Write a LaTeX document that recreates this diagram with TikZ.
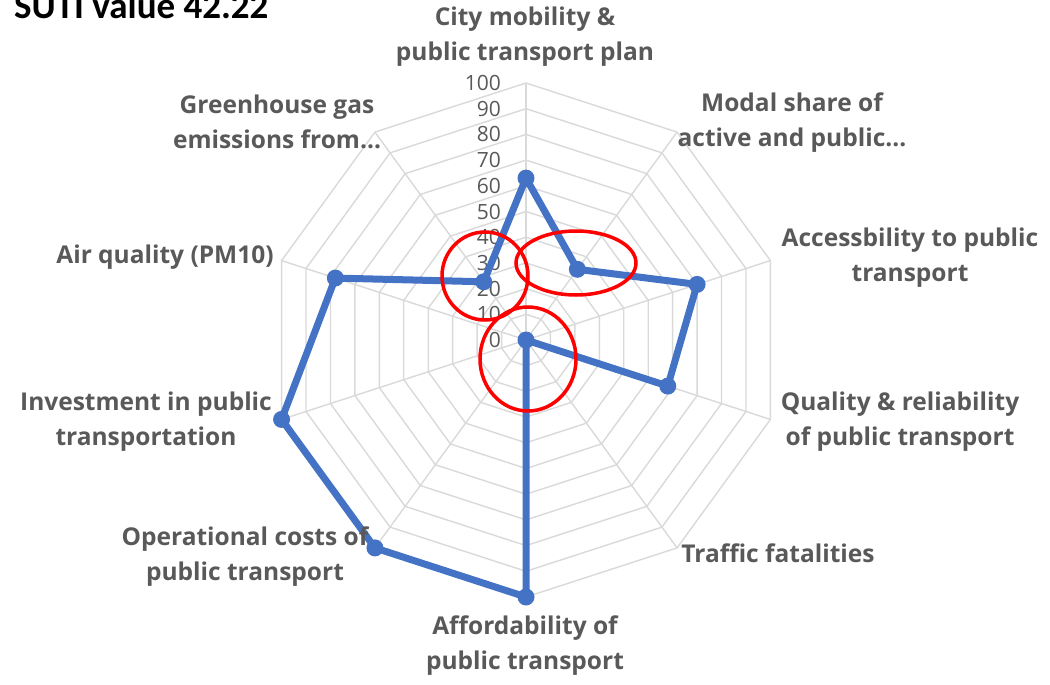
\documentclass[tikz,border=0pt]{standalone}
\usepackage{fontspec}
\setmainfont{Open Sans}
\newfontfamily\titlefont{Carlito}
\definecolor{gridc}{HTML}{D9D9D9}
\definecolor{labc}{HTML}{595959}
\definecolor{serc}{HTML}{4472C4}
\begin{document}
\begin{tikzpicture}[x=1pt,y=-1pt,
  gridline/.style={draw=gridc,line width=1.4pt},
  ticklab/.style={anchor=east,inner sep=0pt,text=labc,font=\fontsize{21}{24}\selectfont},
  catlab/.style={inner sep=0pt,align=center,text=labc,font=\bfseries\fontsize{24.5}{35}\selectfont},
  series/.style={draw=serc,line width=7pt,line join=round},
  dot/.style={circle,fill=serc,minimum size=17pt,inner sep=0pt},
  hilite/.style={draw=red,line width=3.5pt}]
\useasboundingbox (0,0) rectangle (1050,685);
% grid
\begin{scope}[shift={(526,340)},yscale=-1]
  \foreach \k in {1,...,10}
    \draw[gridline] (90:{\k*25.7}) \foreach \a in {54,18,...,-234} { -- (\a:{\k*25.7}) } -- cycle;
  \foreach \a in {90,54,...,-234}
    \draw[gridline] (0,0) -- (\a:257);
\end{scope}
% tick labels
\foreach \t in {0,10,...,100}
  \node[ticklab] (t\t) at (501,{340-2.57*\t}) {\t};
% data
\begin{scope}[shift={(526,340)},yscale=-1]
  \foreach \v [count=\i] in {63,34,70,58,0,100,100,100,78,28}
    \coordinate (p\i) at ({90-36*(\i-1)}:{\v*2.57});
\end{scope}
\draw[series] (p1) -- (p2) -- (p3) -- (p4) -- (p5) -- (p6) -- (p7) -- (p8) -- (p9) -- (p10) -- cycle;
\foreach \i in {1,...,10}
  \node[dot] (m\i) at (p\i) {};
% highlights
\draw[hilite] (485,276) ellipse [x radius=43,y radius=44];
\draw[hilite] (576,263) ellipse [x radius=60,y radius=32];
\draw[hilite] (528,359) ellipse [x radius=48,y radius=52];
% category labels
\node[catlab] (c1) at (525,37) {City mobility \&\\public transport plan};
\node[catlab] (c2) at (792,123) {Modal share of\\active and public\ldots};
\node[catlab] (c3) at (910,258) {Accessbility to public\\transport};
\node[catlab] (c4) at (900,422) {Quality \& reliability\\of public transport};
\node[catlab] (c5) at (778,553) {Traffic fatalities};
\node[catlab] (c6) at (525,646) {Affordability of\\public transport};
\node[catlab] (c7) at (245,557) {Operational costs of\\public transport};
\node[catlab] (c8) at (146,422) {Investment in public\\transportation};
\node[catlab] (c9) at (165,257) {Air quality (PM10)};
\node[catlab] (c10) at (277,122) {Greenhouse gas\\emissions from\ldots};
% title
\node[anchor=base west,inner sep=0pt,font=\titlefont\bfseries\fontsize{37}{40}\selectfont] (title) at (14,19) {SUTI value 42.22};
\end{tikzpicture}
\end{document}
